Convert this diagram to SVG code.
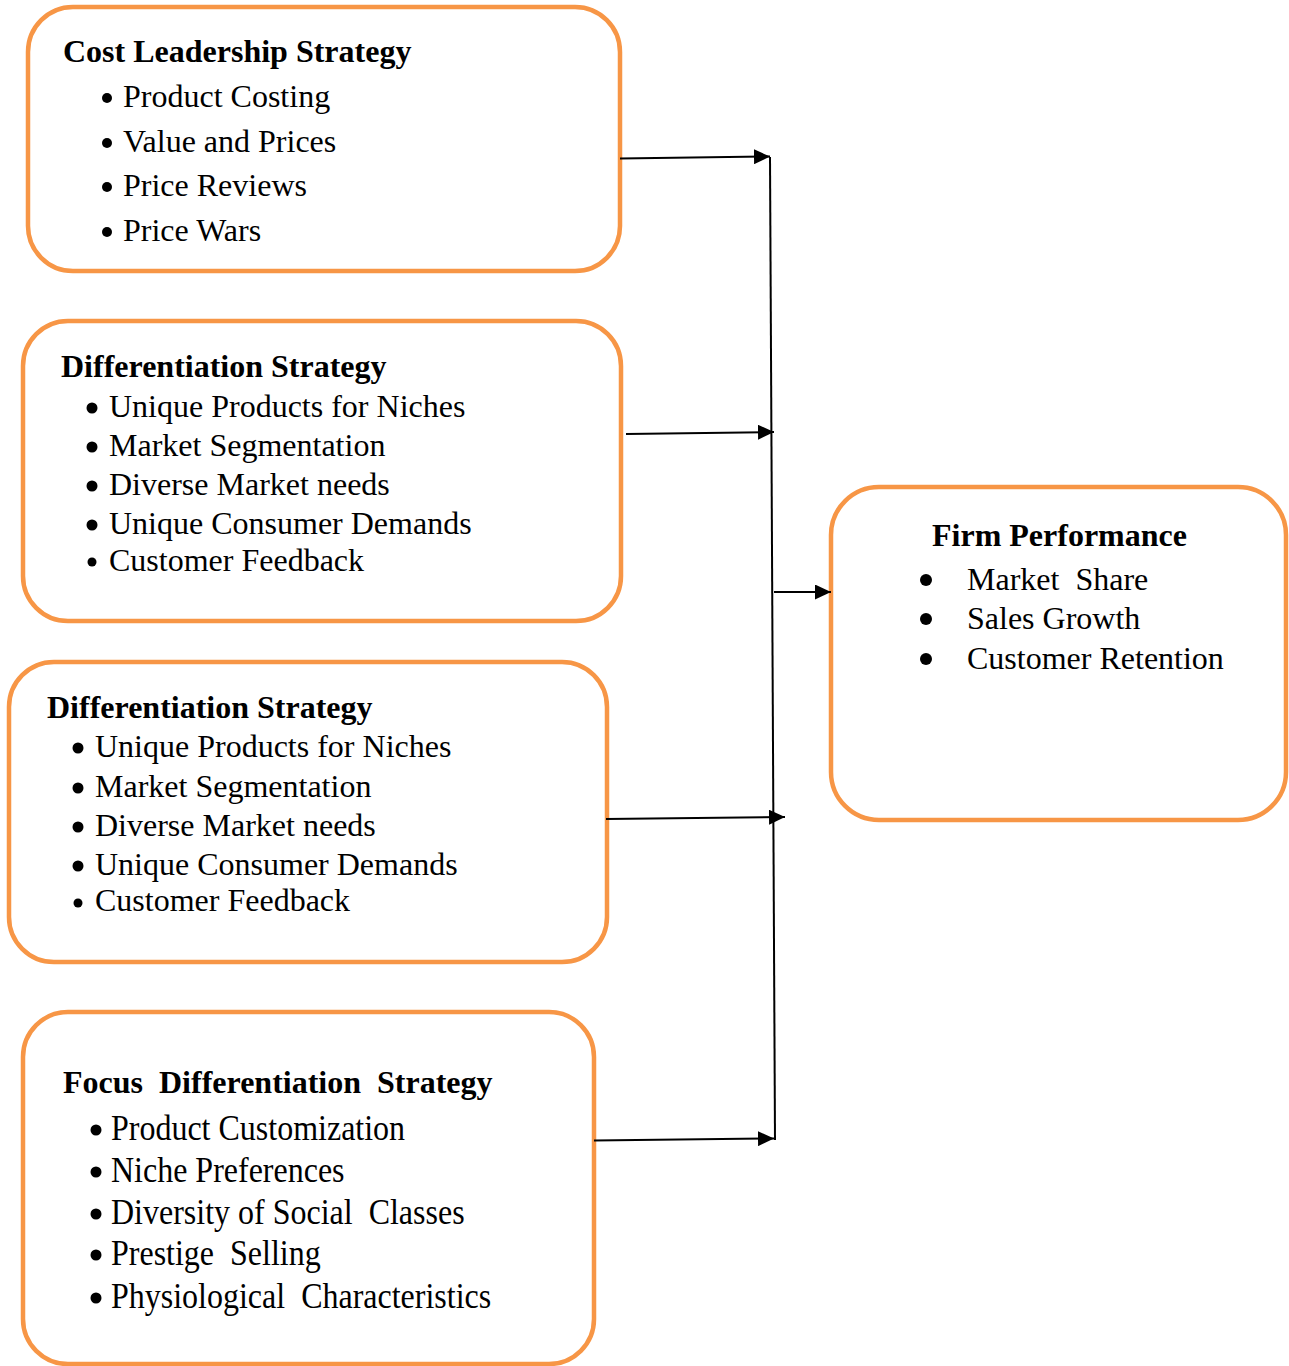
<svg xmlns="http://www.w3.org/2000/svg" width="1289" height="1366" viewBox="0 0 1289 1366">
<defs>
<style>
.box{fill:#fff;stroke:#F79646;stroke-width:4.5}
.t{font-family:"Liberation Serif","Times New Roman",serif;font-size:32px;fill:#000;white-space:pre}
.h{font-weight:bold}
.b{fill:#000}
.c{stroke:#000;stroke-width:2;fill:none}
</style>
<marker id="ah" markerUnits="userSpaceOnUse" markerWidth="16" markerHeight="15" viewBox="0 0 16 15" refX="16" refY="7.5" orient="auto">
<path d="M0,0 L16,7.5 L0,15 z" fill="#000"/>
</marker>
</defs>
<rect width="1289" height="1366" fill="#fff"/>

<g id="cost-leadership">
<rect class="box" x="28" y="7" width="592" height="264" rx="45"/>
<text class="t h" x="63" y="62">Cost Leadership Strategy</text>
<circle class="b" cx="107" cy="98" r="5"/><text class="t" x="123" y="107">Product Costing</text>
<circle class="b" cx="107" cy="143" r="5"/><text class="t" x="123" y="152">Value and Prices</text>
<circle class="b" cx="107" cy="187" r="5"/><text class="t" x="123" y="196">Price Reviews</text>
<circle class="b" cx="107" cy="232" r="5"/><text class="t" x="123" y="241">Price Wars</text>
</g>

<g id="differentiation-1">
<rect class="box" x="23" y="321" width="598" height="300" rx="45"/>
<text class="t h" x="61" y="377">Differentiation Strategy</text>
<circle class="b" cx="92" cy="408" r="5.5"/><text class="t" x="109" y="417">Unique Products for Niches</text>
<circle class="b" cx="92" cy="447" r="5.5"/><text class="t" x="109" y="456">Market Segmentation</text>
<circle class="b" cx="92" cy="486" r="5.5"/><text class="t" x="109" y="495">Diverse Market needs</text>
<circle class="b" cx="92" cy="525" r="5.5"/><text class="t" x="109" y="534">Unique Consumer Demands</text>
<circle class="b" cx="92" cy="562" r="4.5"/><text class="t" x="109" y="571">Customer Feedback</text>
</g>

<g id="differentiation-2">
<rect class="box" x="9" y="662" width="598" height="300" rx="45"/>
<text class="t h" x="47" y="718">Differentiation Strategy</text>
<circle class="b" cx="78" cy="748" r="5.5"/><text class="t" x="95" y="757">Unique Products for Niches</text>
<circle class="b" cx="78" cy="788" r="5.5"/><text class="t" x="95" y="797">Market Segmentation</text>
<circle class="b" cx="78" cy="827" r="5.5"/><text class="t" x="95" y="836">Diverse Market needs</text>
<circle class="b" cx="78" cy="866" r="5.5"/><text class="t" x="95" y="875">Unique Consumer Demands</text>
<circle class="b" cx="78" cy="903" r="4.5"/><text class="t" x="95" y="911">Customer Feedback</text>
</g>

<g id="focus-differentiation">
<rect class="box" x="23" y="1012" width="571" height="352" rx="45"/>
<text class="t h" x="63" y="1093">Focus  Differentiation  Strategy</text>
<circle class="b" cx="96" cy="1130" r="5.5"/><text class="t" transform="translate(111,1140) scale(1,1.1)">Product Customization</text>
<circle class="b" cx="96" cy="1172" r="5.5"/><text class="t" transform="translate(111,1182) scale(1,1.1)">Niche Preferences</text>
<circle class="b" cx="96" cy="1214" r="5.5"/><text class="t" transform="translate(111,1224) scale(1,1.1)">Diversity of Social  Classes</text>
<circle class="b" cx="96" cy="1255" r="5.5"/><text class="t" transform="translate(111,1265) scale(1,1.1)">Prestige  Selling</text>
<circle class="b" cx="96" cy="1298" r="5.5"/><text class="t" transform="translate(111,1308) scale(1,1.1)">Physiological  Characteristics</text>
</g>

<g id="firm-performance">
<rect class="box" x="831" y="487" width="455" height="333" rx="48"/>
<text class="t h" x="932" y="546">Firm Performance</text>
<circle class="b" cx="926" cy="580" r="6"/><text class="t" x="967" y="590">Market  Share</text>
<circle class="b" cx="926" cy="619" r="6"/><text class="t" x="967" y="629">Sales Growth</text>
<circle class="b" cx="926" cy="659" r="6"/><text class="t" x="967" y="669">Customer Retention</text>
</g>

<g id="connectors">
<path class="c" d="M770,157 L775,1140"/>
<path class="c" d="M620,158.5 L770,156.5" marker-end="url(#ah)"/>
<path class="c" d="M626,434 L774,432" marker-end="url(#ah)"/>
<path class="c" d="M774,592 L831,592" marker-end="url(#ah)"/>
<path class="c" d="M606,819 L785,817" marker-end="url(#ah)"/>
<path class="c" d="M594,1140.5 L774,1138.5" marker-end="url(#ah)"/>
</g>
</svg>
